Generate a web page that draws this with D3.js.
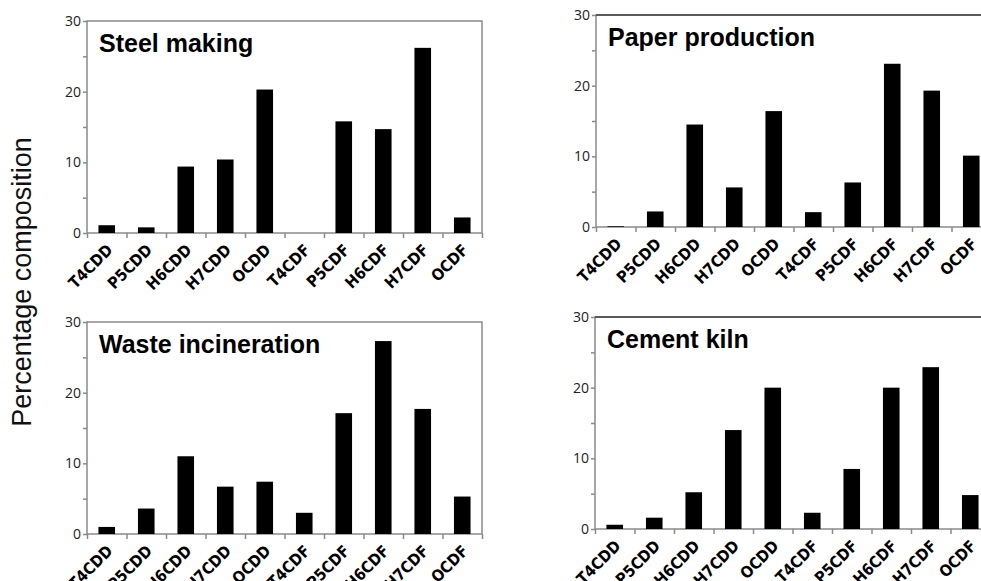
<!DOCTYPE html>
<html>
<head>
    <title>Congener profiles</title>
    <script src="https://cdnjs.cloudflare.com/ajax/libs/d3/7.8.5/d3.min.js"></script>
    <style>
        body { margin: 0; background: #fff; }
        svg { display: block; }
    </style>
</head>
<body>
    <svg width="981" height="581"></svg>
    <script>
        // congeners along the x axis
        var congeners = ["T4CDD", "P5CDD", "H6CDD", "H7CDD", "OCDD", "T4CDF", "P5CDF", "H6CDF", "H7CDF", "OCDF"]
        var yTicks = [0, 10, 20, 30]

        // percentage composition
        var steelMaking = [1.1, 0.8, 9.4, 10.4, 20.3, 0, 15.8, 14.7, 26.2, 2.2]
        var paperProduction = [0.1, 2.2, 14.5, 5.6, 16.4, 2.1, 6.3, 23.1, 19.3, 10.1]
        var wasteIncineration = [1.0, 3.6, 11.0, 6.7, 7.4, 3.0, 17.1, 27.3, 17.7, 5.3]
        var cementKiln = [0.6, 1.6, 5.2, 14.0, 20.0, 2.3, 8.5, 20.0, 22.9, 4.8]

        var panels = [
            { title: "Steel making", values: steelMaking, left: 87, top: 21, dark: false },
            { title: "Paper production", values: paperProduction, left: 596, top: 15, dark: true },
            { title: "Waste incineration", values: wasteIncineration, left: 87, top: 322, dark: false },
            { title: "Cement kiln", values: cementKiln, left: 595, top: 317, dark: true }
        ]

        var w = 395, h = 212
        var svg = d3.select("svg")

        panels.forEach(function (p) {
            var g = svg.append("g").attr("transform", `translate(${p.left},${p.top})`)

            var x = d3.scaleBand().domain(congeners).range([0, w])
                .paddingInner(0.58).paddingOuter(0.29)
            var xEdges = d3.scaleLinear().domain([0, congeners.length]).range([0, w])
            var y = d3.scaleLinear().domain([0, 30]).range([h, 0])

            // frame
            g.append("rect")
                .attr("x", 0).attr("y", 0).attr("width", w).attr("height", h)
                .style("fill", "none").style("stroke", "#8a8a8a").style("stroke-width", "1.5px")
            if (p.dark) {
                g.append("line")
                    .attr("x1", 0).attr("x2", w).attr("y1", 0).attr("y2", 0)
                    .style("stroke", "#404040").style("stroke-width", "1.5px")
            }

            // bars
            g.selectAll("rect.bar")
                .data(p.values)
                .enter().append("rect")
                .attr("class", "bar")
                .attr("x", (d, i) => x(congeners[i]))
                .attr("width", x.bandwidth())
                .attr("y", d => y(d))
                .attr("height", d => h - y(d))
                .style("fill", "#000")

            // y axis: minor ticks every 5, labels every 10
            var yAxis = g.append("g")
                .call(d3.axisLeft(y).tickValues(d3.range(0, 31, 5)).tickSize(4).tickPadding(2)
                    .tickFormat(d => yTicks.includes(d) ? d : ""))
            yAxis.select(".domain").remove()
            yAxis.selectAll("line").style("stroke", "#8a8a8a").style("stroke-width", "1.5px")
            yAxis.selectAll("text")
                .style("font-family", "'Open Sans', sans-serif")
                .style("font-size", "14px")
                .style("fill", "#222")

            // x axis: ticks at category edges
            var xAxis = g.append("g")
                .attr("transform", `translate(0,${h})`)
                .call(d3.axisBottom(xEdges).ticks(10).tickSize(5).tickFormat(""))
            xAxis.select(".domain").remove()
            xAxis.selectAll("line").style("stroke", "#8a8a8a").style("stroke-width", "1.5px")

            g.selectAll("text.cat")
                .data(congeners)
                .enter().append("text")
                .attr("class", "cat")
                .attr("transform", d => `translate(${x(d) + x.bandwidth() / 2 + 7},${h + 18}) rotate(-45)`)
                .style("text-anchor", "end")
                .style("font-family", "'Liberation Sans Narrow', 'DejaVu Sans Condensed', sans-serif")
                .style("font-weight", "bold")
                .style("font-size", "16px")
                .text(d => d)

            g.append("text")
                .attr("x", 12).attr("y", 31)
                .style("font-family", "'Liberation Sans', Arial, sans-serif")
                .style("font-weight", "bold")
                .style("font-size", "25px")
                .text(p.title)
        })

        svg.append("text")
            .attr("transform", "translate(31,282) rotate(-90)")
            .style("text-anchor", "middle")
            .style("font-family", "'Liberation Sans', Arial, sans-serif")
            .style("font-size", "27px")
            .style("fill", "#111")
            .text("Percentage composition")
    </script>
</body>
</html>
